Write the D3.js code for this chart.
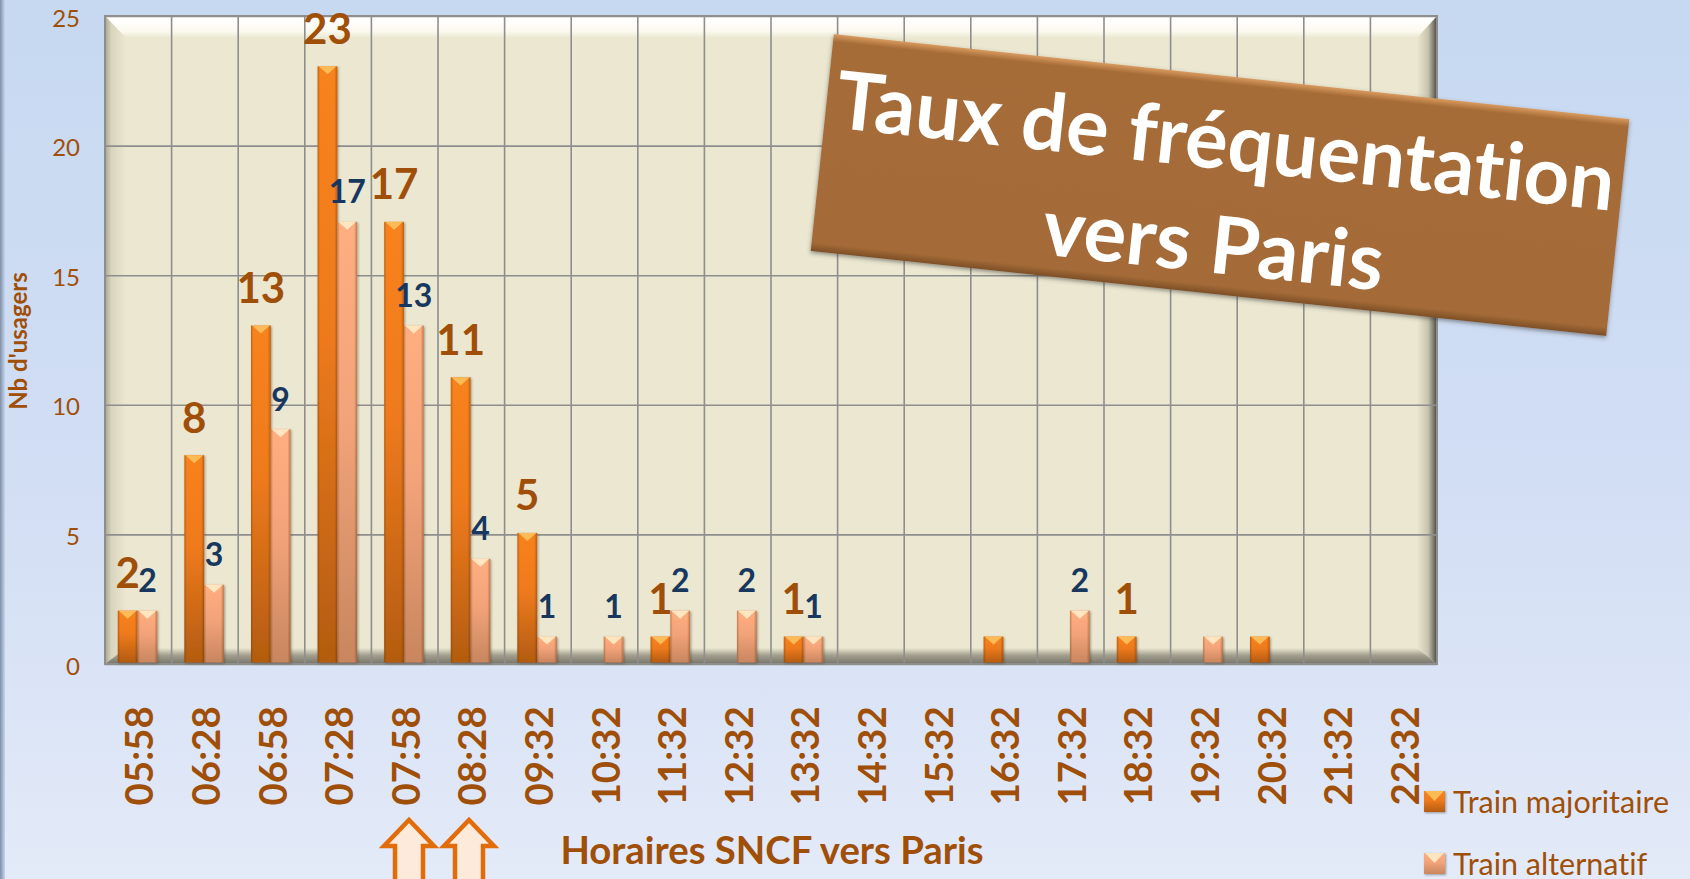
<!DOCTYPE html>
<html><head><meta charset="utf-8">
<script src="https://cdn.jsdelivr.net/npm/d3@7"></script>
<style>html,body{margin:0;padding:0;overflow:hidden;background:#d5e0f4}svg{display:block}text{font-family:Lato,"Noto Sans",sans-serif;font-variant-ligatures:none}</style>
</head><body><svg id="c" width="1690" height="879"></svg>
<script>
const categories=["05:58","06:28","06:58","07:28","07:58","08:28","09:32","10:32","11:32","12:32","13:32","14:32","15:32","16:32","17:32","18:32","19:32","20:32","21:32","22:32"];
const majoritaire=[2,8,13,23,17,11,5,0,1,0,1,0,0,1,0,1,0,1,0,0];
const alternatif=[2,3,9,17,13,4,1,1,2,2,1,0,0,0,2,0,1,0,0,0];
const majoritaireHiddenLabels=["16:32","20:32"];
const alternatifHiddenLabels=["19:32"];
const yTicks=[0,5,10,15,20,25];
const seriesNames=["Train majoritaire","Train alternatif"];
const titleLines=["Taux de fréquentation","vers Paris"];
const xTitle="Horaires SNCF vers Paris";
const yTitle="Nb d'usagers";

const P={l:105,r:1437,t:16,b:664};
const brown="#a04f08",navy="#17375e";
const svg=d3.select("#c"),defs=svg.append("defs");
function grad(id,stops,vert=true){const g=defs.append("linearGradient").attr("id",id).attr("x1",0).attr("y1",0).attr("x2",vert?0:1).attr("y2",vert?1:0);
 stops.forEach(s=>g.append("stop").attr("offset",s[0]).attr("stop-color",s[1]).attr("stop-opacity",s[2]===undefined?1:s[2]));}
grad("bg",[[0,"#c6d9f1"],[0.55,"#d2def4"],[1,"#e3eaf8"]]);
grad("strip",[[0,"#7f8fa8"],[1,"#c6d6ee"]],false);
grad("bTop",[[0,"#fffdf0"],[0.15,"#ffffff"],[0.7,"#fbf9ee"],[1,"#ebe7d0"]]);
grad("bLeft",[[0,"#a8a593"],[0.3,"#d8d4bd"],[1,"#ebe7d0"]],false);
grad("bRight",[[0,"#ebe7d0"],[0.55,"#c8c4ae"],[0.85,"#77756a"],[1,"#45453f"]],false);
grad("bBot",[[0,"#ebe7d0"],[0.45,"#a3a08f"],[1,"#77756a"]]);
grad("maj",[[0,"#f8821f"],[0.45,"#ee7a1d"],[1,"#b35c10"]]);
grad("alt",[[0,"#ffae80"],[0.45,"#f3a379"],[1,"#c8865f"]]);
grad("edge",[[0,"#5c2c00",0.35],[0.12,"#5c2c00",0],[0.85,"#5c2c00",0],[1,"#5c2c00",0.4]],false);
grad("ban",[[0,"#d99a5e"],[0.035,"#a56c38"],[0.96,"#a46b37"],[1,"#7d4f26"]]);
const sh=defs.append("filter").attr("id","sh").attr("x","-30%").attr("y","-10%").attr("width","160%").attr("height","120%");
sh.append("feDropShadow").attr("dx",1).attr("dy",1).attr("stdDeviation",1.2).attr("flood-color","#333").attr("flood-opacity",.45);
const sb=defs.append("filter").attr("id","sb").attr("x","-5%").attr("y","-5%").attr("width","110%").attr("height","110%");
sb.append("feDropShadow").attr("dx",0).attr("dy",2).attr("stdDeviation",2).attr("flood-color","#333").attr("flood-opacity",.5);

svg.append("rect").attr("width",1690).attr("height",879).attr("fill","url(#bg)");
svg.append("rect").attr("width",5).attr("height",879).attr("fill","url(#strip)");

const x=d3.scaleBand().domain(categories).range([P.l,P.r]);
const y=d3.scaleLinear().domain([0,25]).range([P.b,P.t]);
const sub=d3.scaleBand().domain(seriesNames).range([x.bandwidth()/2-20.5,x.bandwidth()/2+19]);

// plot wall with bevel
const bw={t:22,l:21,r:20,b:16};
svg.append("rect").attr("x",P.l).attr("y",P.t).attr("width",P.r-P.l).attr("height",P.b-P.t).attr("fill","#ebe7d0");
const poly=(pts,fill)=>svg.append("polygon").attr("points",pts.map(p=>p.join(",")).join(" ")).attr("fill",fill);
poly([[P.l,P.t],[P.r,P.t],[P.r-bw.r,P.t+bw.t],[P.l+bw.l,P.t+bw.t]],"url(#bTop)");
poly([[P.l,P.t],[P.l+bw.l,P.t+bw.t],[P.l+bw.l,P.b-bw.b],[P.l,P.b]],"url(#bLeft)");
poly([[P.r,P.t],[P.r,P.b],[P.r-bw.r,P.b-bw.b],[P.r-bw.r,P.t+bw.t]],"url(#bRight)");
poly([[P.l,P.b],[P.l+bw.l,P.b-bw.b],[P.r-bw.r,P.b-bw.b],[P.r,P.b]],"url(#bBot)");

// grid
const gridC="#8e8e8e";
svg.append("g").selectAll("line").data(categories.slice(1)).join("line")
 .attr("x1",d=>x(d)).attr("x2",d=>x(d)).attr("y1",P.t).attr("y2",P.b).attr("stroke",gridC).attr("stroke-width",1.6);
const yAxis=svg.append("g").attr("transform",`translate(${P.l},0)`)
 .call(d3.axisLeft(y).tickValues(yTicks).tickSize(-(P.r-P.l)).tickPadding(25));
yAxis.select(".domain").remove();
yAxis.selectAll("line").attr("stroke",gridC).attr("stroke-width",1.6);
yAxis.selectAll("text").attr("fill",brown).attr("font-size",24).attr("dy","0.42em").style("font-family","Lato");
svg.append("rect").attr("x",P.l).attr("y",P.t).attr("width",P.r-P.l).attr("height",P.b-P.t).attr("fill","none").attr("stroke","#8e8e8e").attr("stroke-width",2);

// x axis
const xAxis=svg.append("g").attr("transform",`translate(0,${P.b})`).call(d3.axisBottom(x).tickSize(0));
xAxis.select(".domain").remove();
xAxis.selectAll("text").attr("fill",brown).attr("font-size",38.5).attr("font-weight",700).style("font-family","Lato")
 .attr("text-anchor","start").attr("dy",0).attr("y",0)
 .attr("transform","translate(15,141.5) rotate(-90)");

// bars
const barLift=1.5;
function series(vals,name,fill,tip,labelColor,fs,gap,hidden){
 const g=svg.append("g");
 const data=categories.map((c,i)=>({c,v:vals[i]})).filter(d=>d.v>0);
 const b=g.selectAll("g").data(data).join("g").attr("transform",d=>`translate(${x(d.c)+sub(name)},${y(d.v)-barLift})`);
 b.append("rect").attr("width",sub.bandwidth()).attr("height",d=>y(0)-y(d.v)).attr("fill",`url(#${fill})`).attr("filter","url(#sh)");
 b.append("rect").attr("width",sub.bandwidth()).attr("height",d=>y(0)-y(d.v)).attr("fill","url(#edge)");
 b.append("polygon").attr("points",`1,0 ${sub.bandwidth()-1},0 ${sub.bandwidth()/2},8`).attr("fill",tip);
 g.selectAll("text").data(data.filter(d=>!hidden.includes(d.c))).join("text")
  .attr("x",d=>x(d.c)+sub(name)+sub.bandwidth()/2).attr("y",d=>y(d.v)-gap)
  .attr("text-anchor","middle").attr("font-weight",700).attr("font-size",fs).attr("fill",labelColor).text(d=>d.v);
}
series(majoritaire,seriesNames[0],"maj","#fdbb58",brown,42,24,majoritaireHiddenLabels);
series(alternatif,seriesNames[1],"alt","#ffe6c0",navy,32,20,alternatifHiddenLabels);

// axis titles
svg.append("text").attr("transform","translate(27,341) rotate(-90)").attr("text-anchor","middle")
 .attr("font-size",24).attr("font-weight",700).attr("fill",brown).text(yTitle);
svg.append("text").attr("x",772).attr("y",864).attr("text-anchor","middle")
 .attr("font-size",38.3).attr("font-weight",700).attr("fill",brown).text(xTitle);

// arrows
[409,469].forEach(tx=>{
 svg.append("path").attr("d",`M${tx-14},885 V846 H${tx-25} L${tx},820 L${tx+25},846 H${tx+14} V885`)
  .attr("fill","#fdeada").attr("stroke","#e36c0a").attr("stroke-width",4.5);
});

// legend
const lg=svg.append("g").selectAll("g").data(seriesNames).join("g").attr("transform",(d,i)=>`translate(1424,${791+i*62})`);
lg.append("rect").attr("width",21).attr("height",21).attr("fill",(d,i)=>i?"url(#alt)":"url(#maj)").attr("filter","url(#sh)");
lg.append("polygon").attr("points","1,0 20,0 10.5,10").attr("fill",(d,i)=>i?"#ffe6c0":"#fdbb58");
lg.append("text").attr("x",29).attr("y",22).attr("font-size",30.5).attr("fill",brown).text(d=>d);

// banner
const ban=svg.append("g").attr("transform","translate(1220,185) rotate(6.1)");
ban.append("rect").attr("x",-400).attr("y",-109).attr("width",800).attr("height",218).attr("fill","url(#ban)").attr("filter","url(#sb)");
ban.selectAll("text").data(titleLines).join("text").attr("text-anchor","middle")
 .attr("transform",(d,i)=>`translate(${i?0:1},${i?88:-16})`)
 .attr("font-size",80).attr("font-weight",700).attr("fill","#fff").text(d=>d);
</script></body></html>
